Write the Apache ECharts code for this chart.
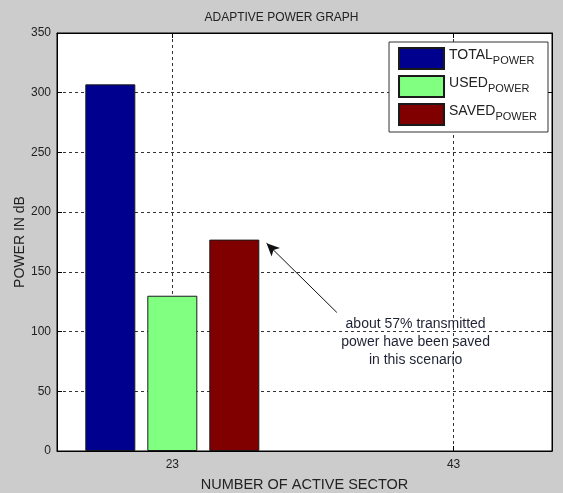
<!DOCTYPE html>
<html>
<head>
<meta charset="utf-8">
<script src="https://cdn.jsdelivr.net/npm/echarts@6/dist/echarts.min.js"></script>
<style>
  html, body { margin: 0; padding: 0; background: #cccccc; }
  #chart { width: 563px; height: 493px; }
</style>
</head>
<body>
<div id="chart"></div>
<script>
// Power per number of active sectors
const sectors = [23, 43];
const totalPower = [307, 0];
const usedPower = [130, 0];
const savedPower = [177, 0];

const yTicks = [0, 50, 100, 150, 200, 250, 300, 350];
const xRange = [14.8, 50];

const legendMain = ['TOTAL', 'USED', 'SAVED'];
const legendSub = ['POWER', 'POWER', 'POWER'];
const barColors = ['#00008f', '#80ff80', '#800000'];

// Annotation text and its arrow, in data coordinates
const noteLines = ['about 57% transmitted', 'power have been saved', 'in this scenario'];
const notePos = [40.3, 91];
const arrowTail = [34.7, 116];
const arrowTip = [29.7, 174];

const FONT = 'Liberation Sans, Arial, Helvetica, sans-serif';
const TXT = '#222222';

const chart = echarts.init(document.getElementById('chart'));

const names = legendMain.map((m, i) => m + '_' + legendSub[i]);
const seriesValues = [totalPower, usedPower, savedPower];

// Empty (zero) entries are left out so no flat bar is drawn on the baseline
const series = names.map((name, i) => ({
  name: name,
  type: 'bar',
  barWidth: 50,
  barGap: '24%',
  data: sectors.map((x, j) => [x, seriesValues[i][j]]).filter(d => d[1] > 0),
  itemStyle: { color: barColors[i], borderColor: '#1a1a1a', borderWidth: 1 },
  emphasis: { disabled: true },
  z: 3
}));

// Arrow pointing at the saved-power bar (attached to the centred series, so no bar offset)
series[1].markLine = {
  silent: true,
  symbol: ['none', 'arrow'],
  symbolSize: [9, 13],
  lineStyle: { color: '#111', width: 1, type: 'solid' },
  label: { show: false },
  data: [[{ coord: arrowTail }, { coord: arrowTip }]]
};

const yTickCommon = {
  type: 'value',
  min: yTicks[0],
  max: yTicks[yTicks.length - 1],
  interval: yTicks[1] - yTicks[0]
};

chart.setOption({
  backgroundColor: '#cccccc',
  animation: false,
  textStyle: { fontFamily: FONT },
  title: {
    text: 'ADAPTIVE POWER GRAPH',
    left: 'center',
    top: 7,
    textStyle: { fontSize: 12, fontWeight: 'normal', color: TXT, fontFamily: FONT }
  },
  grid: {
    left: 57, right: 11, top: 33, bottom: 42,
    outerBoundsMode: 'none',
    containLabel: false,
    show: true, backgroundColor: '#ffffff', borderColor: '#000', borderWidth: 1
  },
  legend: {
    orient: 'vertical',
    right: 15,
    top: 42,
    padding: [5, 11, 6, 9],
    itemGap: 5,
    itemWidth: 45,
    itemHeight: 21,
    icon: 'rect',
    backgroundColor: '#ffffff',
    borderColor: '#333333',
    borderWidth: 1,
    selectedMode: false,
    data: names,
    formatter: function (n) {
      const i = names.indexOf(n);
      return '{m|' + legendMain[i] + '}{s|' + legendSub[i] + '}';
    },
    textStyle: {
      color: TXT,
      fontFamily: FONT,
      rich: {
        m: { fontSize: 14, lineHeight: 16, padding: [0, 0, 4, 0], verticalAlign: 'bottom', color: TXT, fontFamily: FONT },
        s: { fontSize: 11, lineHeight: 10, verticalAlign: 'bottom', color: TXT, fontFamily: FONT }
      }
    }
  },
  xAxis: [
    {
      type: 'value',
      min: xRange[0],
      max: xRange[1],
      name: 'NUMBER OF ACTIVE SECTOR',
      nameLocation: 'middle',
      nameGap: 26,
      nameTextStyle: { fontSize: 14.5, color: TXT, fontFamily: FONT },
      axisLine: { show: true, onZero: false, lineStyle: { color: '#000', width: 1 } },
      axisTick: { show: true, inside: true, length: 5, customValues: sectors, lineStyle: { color: '#000' } },
      axisLabel: { show: true, customValues: sectors, fontSize: 12, color: TXT, margin: 8, fontFamily: FONT },
      splitLine: { show: true, lineStyle: { color: '#333', type: [3, 3], width: 1 } }
    },
    {
      type: 'value',
      position: 'top',
      min: xRange[0],
      max: xRange[1],
      axisLine: { show: true, onZero: false, lineStyle: { color: '#000', width: 1 } },
      axisTick: { show: true, inside: true, length: 5, customValues: sectors, lineStyle: { color: '#000' } },
      axisLabel: { show: false },
      splitLine: { show: false }
    }
  ],
  yAxis: [
    Object.assign({}, yTickCommon, {
      name: 'POWER IN dB',
      nameLocation: 'middle',
      nameGap: 30,
      nameMoveOverlap: false,
      nameTextStyle: { fontSize: 14, color: TXT, fontFamily: FONT },
      axisLine: { show: true, lineStyle: { color: '#000', width: 1 } },
      axisTick: { show: true, inside: true, length: 5, lineStyle: { color: '#000' } },
      axisLabel: { fontSize: 12, color: TXT, margin: 6, fontFamily: FONT },
      splitLine: { show: true, lineStyle: { color: '#333', type: [3, 3], width: 1 } }
    }),
    Object.assign({}, yTickCommon, {
      position: 'right',
      axisLine: { show: true, lineStyle: { color: '#000', width: 1 } },
      axisTick: { show: true, inside: true, length: 5, lineStyle: { color: '#000' } },
      axisLabel: { show: false },
      splitLine: { show: false }
    })
  ],
  series: series
});

// Place the annotation text through the chart's own coordinate conversion
const p = chart.convertToPixel({ xAxisIndex: 0, yAxisIndex: 0 }, notePos);
chart.setOption({
  graphic: [{
    type: 'text',
    x: p[0],
    y: p[1],
    silent: true,
    z: 10,
    style: {
      text: noteLines.join('\n'),
      align: 'center',
      verticalAlign: 'middle',
      lineHeight: 18,
      fontSize: 14,
      fontFamily: FONT,
      fill: '#1f2233'
    }
  }]
});
</script>
</body>
</html>
